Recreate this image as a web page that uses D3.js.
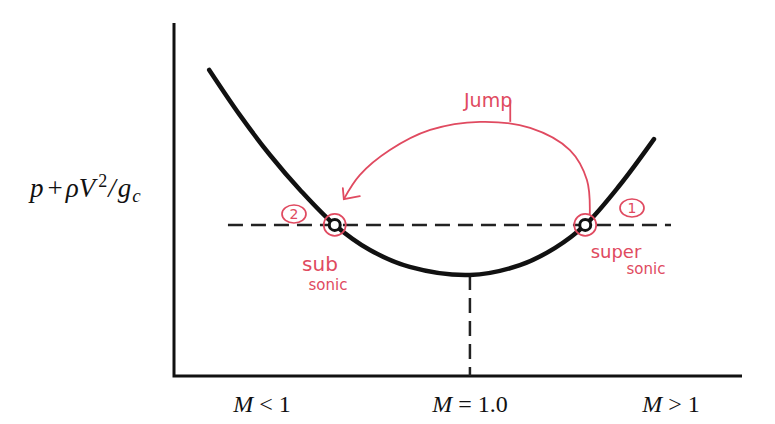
<!DOCTYPE html>
<html><head><meta charset="utf-8">
<script src="https://cdn.jsdelivr.net/npm/d3@7"></script>
<style>body{margin:0;background:#fff}svg{display:block}</style>
</head><body>
<svg id="c" width="775" height="424"></svg>
<script>
// ---- data (arbitrary units: x 0..10, y 0..10) ----
const curveX = [0.62, 1.16, 1.69, 2.22, 2.83, 3.45, 4.15, 5.21, 6.09, 6.71, 7.24, 7.85, 8.45];
const curveY = [8.67, 7.39, 6.26, 5.27, 4.28, 3.57, 3.09, 2.86, 3.14, 3.63, 4.28, 5.41, 6.71];
const levelY = 4.28;                 // dashed constant-impulse line
const levelX = [0.95, 8.75];
const minX = 5.21, minY = 2.86;      // sonic point M = 1
const stateX = [2.83, 7.24];         // subsonic (2) & supersonic (1) states
const tickLabels = ["M < 1", "M = 1.0", "M > 1"];
const tickX = [1.55, 5.21, 8.75];
// hand annotation: jump arc
const jumpX = [7.32, 7.27, 6.97, 6.27, 5.39, 4.51, 3.80, 3.27, 2.99];
const jumpY = [4.59, 5.55, 6.40, 7.03, 7.20, 6.97, 6.40, 5.69, 5.01];

const svg = d3.select("#c");
const x = d3.scaleLinear().domain([0, 10]).range([174, 742]);
const y = d3.scaleLinear().domain([0, 10]).range([376, 23]);
const red = "#e04a60";

// axes
svg.append("path").attr("d", d3.line()([[x(0), y(10)], [x(0), y(0)], [x(10), y(0)]]))
  .attr("fill", "none").attr("stroke", "#111").attr("stroke-width", 3);

// dashed lines
svg.append("line").attr("x1", x(levelX[0])).attr("x2", x(levelX[1]))
  .attr("y1", y(levelY)).attr("y2", y(levelY))
  .attr("stroke", "#222").attr("stroke-width", 2.5).attr("stroke-dasharray", "15,8");
svg.append("line").attr("x1", x(minX)).attr("x2", x(minX))
  .attr("y1", y(minY)).attr("y2", y(0))
  .attr("stroke", "#222").attr("stroke-width", 2.5).attr("stroke-dasharray", "15,8");

// curve
const pts = curveX.map((v, i) => [x(v), y(curveY[i])]);
svg.append("path").attr("d", d3.line().curve(d3.curveCatmullRom)(pts))
  .attr("fill", "none").attr("stroke", "#111").attr("stroke-width", 4.5).attr("stroke-linecap", "round");

// state points
svg.selectAll(".st").data(stateX).join("circle")
  .attr("cx", d => x(d)).attr("cy", y(levelY)).attr("r", 5.5)
  .attr("fill", "#fff").attr("stroke", "#111").attr("stroke-width", 3);

// tick labels
svg.selectAll(".tl").data(tickLabels).join("text")
  .attr("x", (d, i) => x(tickX[i])).attr("y", 412)
  .attr("text-anchor", "middle").attr("font-family", "Liberation Serif, serif")
  .attr("font-size", 24).attr("fill", "#111").attr("xml:space", "preserve")
  .each(function(d) {
    const t = d3.select(this);
    t.append("tspan").attr("font-style", "italic").text("M");
    t.append("tspan").text(d.slice(1));
  });

// y label
const yl = svg.append("text").attr("x", 30).attr("y", 197)
  .attr("font-family", "Liberation Serif, serif").attr("font-size", 27)
  .attr("font-style", "italic").attr("fill", "#111");
yl.append("tspan").text("p");
yl.append("tspan").attr("font-style", "normal").attr("dx", 4).text("+");
yl.append("tspan").attr("dx", 3).text("ρV");
yl.append("tspan").attr("dx", 3).attr("dy", -10).attr("font-size", 18).attr("font-style", "normal").text("2");
yl.append("tspan").attr("dx", 1).attr("dy", 10).text("/");
yl.append("tspan").attr("dx", 2).text("g");
yl.append("tspan").attr("dx", 1).attr("dy", 5).attr("font-size", 19).text("c");

// ---- red hand annotations ----
const ap = jumpX.map((v, i) => [x(v), y(jumpY[i])]);
svg.append("path").attr("d", d3.line().curve(d3.curveCatmullRom)(ap))
  .attr("fill", "none").attr("stroke", red).attr("stroke-width", 1.8);
const tip = ap[ap.length - 1];
svg.append("path").attr("d", d3.line()([[tip[0] - 1, tip[1] - 11], tip, [tip[0] + 16, tip[1] - 3]]))
  .attr("fill", "none").attr("stroke", red).attr("stroke-width", 1.8).attr("stroke-linecap", "round");
svg.append("line").attr("x1", x(5.92)).attr("x2", x(5.92)).attr("y1", y(7.82)).attr("y2", y(7.2))
  .attr("stroke", red).attr("stroke-width", 1.8);

const hand = "DejaVu Sans, sans-serif";
svg.append("text").attr("x", x(5.53)).attr("y", 107).attr("text-anchor", "middle")
  .attr("font-family", hand).attr("font-size", 19).attr("fill", red).text("Jump");

// circles round states
svg.selectAll(".rc").data(stateX).join("circle")
  .attr("cx", d => x(d)).attr("cy", y(levelY)).attr("r", 11)
  .attr("fill", "none").attr("stroke", red).attr("stroke-width", 1.7);

// numbered labels
const nums = [{t: "2", cx: 294, cy: 214}, {t: "1", cx: 632, cy: 208}];
nums.forEach(n => {
  svg.append("ellipse").attr("cx", n.cx).attr("cy", n.cy).attr("rx", 12).attr("ry", 9)
    .attr("fill", "none").attr("stroke", red).attr("stroke-width", 1.7);
  svg.append("text").attr("x", n.cx).attr("y", n.cy + 5).attr("text-anchor", "middle")
    .attr("font-family", hand).attr("font-size", 14).attr("fill", red).text(n.t);
});

const words = [
  {t: "sub", x: 320, y: 271, s: 20},
  {t: "sonic", x: 328, y: 290, s: 15},
  {t: "super", x: 616, y: 258, s: 18},
  {t: "sonic", x: 646, y: 274, s: 15}
];
svg.selectAll(".w").data(words).join("text")
  .attr("x", d => d.x).attr("y", d => d.y).attr("text-anchor", "middle")
  .attr("font-family", hand).attr("font-size", d => d.s)
  .attr("fill", red).text(d => d.t);
</script>
</body></html>
